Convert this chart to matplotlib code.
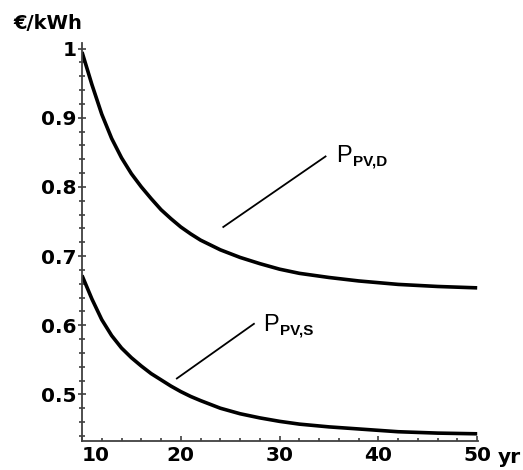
import matplotlib
matplotlib.use("Agg")
import matplotlib.pyplot as plt
from matplotlib.ticker import MultipleLocator

# values
years_d = [10, 11, 12, 13, 14, 15, 16, 17, 18, 19, 20, 21, 22, 24, 26, 28, 30, 32, 35, 38, 42, 46, 50]
price_d = [0.995, 0.948, 0.905, 0.870, 0.842, 0.819, 0.800, 0.783, 0.767, 0.754, 0.742, 0.732,
           0.723, 0.709, 0.698, 0.689, 0.681, 0.675, 0.669, 0.664, 0.659, 0.656, 0.654]

years_s = [10, 11, 12, 13, 14, 15, 16, 17, 18, 19, 20, 21, 22, 24, 26, 28, 30, 32, 35, 38, 42, 46, 50]
price_s = [0.672, 0.638, 0.608, 0.585, 0.567, 0.553, 0.541, 0.530, 0.521, 0.512, 0.504, 0.497,
           0.491, 0.480, 0.472, 0.466, 0.461, 0.457, 0.453, 0.450, 0.446, 0.444, 0.443]

x_ticks = [10, 20, 30, 40, 50]
x_tick_labels = ["10", "20", "30", "40", "50"]
y_ticks = [0.5, 0.6, 0.7, 0.8, 0.9, 1.0]
y_tick_labels = ["0.5", "0.6", "0.7", "0.8", "0.9", "1"]

plt.rcParams["font.family"] = ["DejaVu Sans"]

fig = plt.figure(figsize=(5.23, 4.70), dpi=100)
ax = fig.add_axes([0.1568, 0.0623, 0.7575, 0.8462])

ax.plot(years_d, price_d, color="black", lw=2.6, solid_capstyle="butt", solid_joinstyle="round")
ax.plot(years_s, price_s, color="black", lw=2.6, solid_capstyle="butt", solid_joinstyle="round")

ax.set_xlim(10, 50.1)
ax.set_ylim(0.433, 1.008)

for side in ["top", "right"]:
    ax.spines[side].set_visible(False)
for side in ["left", "bottom"]:
    ax.spines[side].set_color("#404040")
    ax.spines[side].set_linewidth(1.3)

ax.set_xticks(x_ticks)
ax.set_xticklabels(x_tick_labels, fontsize=14.5, fontweight="bold")
ax.set_yticks(y_ticks)
ax.set_yticklabels(y_tick_labels, fontsize=14.5, fontweight="bold")
ax.xaxis.set_minor_locator(MultipleLocator(2))
ax.yaxis.set_minor_locator(MultipleLocator(0.02))

ax.tick_params(axis="x", which="major", direction="in", length=3.5, width=1.2, color="#404040", pad=4)
ax.tick_params(axis="x", which="minor", direction="in", length=2.5, width=1.2, color="#404040")
ax.tick_params(axis="y", which="major", direction="inout", length=6, width=1.2, color="#404040", pad=1)
ax.tick_params(axis="y", which="minor", direction="inout", length=4, width=1.2, color="#404040")
ax.get_xticklabels()[0].set_horizontalalignment("left")

# axis unit labels
fig.text(0.025, 0.951, "€/kWh", fontsize=14, fontweight="bold", ha="left", va="center")
fig.text(0.951, 0.026, "yr", fontsize=14.5, fontweight="bold", ha="left", va="center")

# curve labels with pointer lines
ax.plot([24.3, 34.65], [0.742, 0.844], color="black", lw=1.3)
ax.plot([19.6, 27.4], [0.523, 0.602], color="black", lw=1.3)

for (tx, ty, sub) in [(35.75, 0.844, "PV,D"), (28.35, 0.600, "PV,S")]:
    p = ax.text(tx, ty, "P", fontsize=17, family="Liberation Sans", ha="left", va="center")
    ax.annotate(sub, xy=(1, 0), xycoords=p, xytext=(0.5, -1), textcoords="offset points",
                fontsize=11, family="Liberation Sans", fontweight="bold", ha="left", va="bottom")

fig.savefig("out.png", dpi=100)
